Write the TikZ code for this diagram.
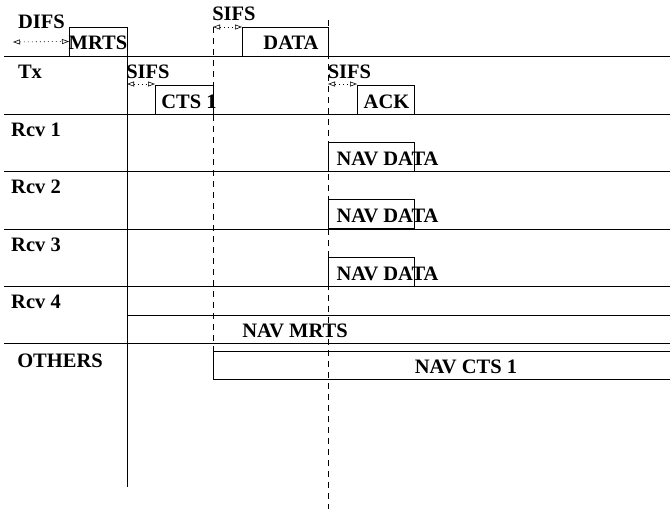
\documentclass[tikz,border=0pt]{standalone}
\usepackage{fontspec}
\setmainfont{Liberation Serif}
\usetikzlibrary{arrows.meta}

\begin{document}
\begin{tikzpicture}[x=1pt,y=-1pt,line width=0.7pt,
        lbl/.style={font=\fontsize{20.5}{24}\selectfont\bfseries,inner sep=0pt,anchor=base},
        frm/.style={draw,anchor=north west,minimum width=#1,minimum height=29pt,
            inner sep=0pt,outer sep=0pt},
        mark line/.style={dash pattern=on 6pt off 5pt},
        gap/.style={dash pattern=on 1pt off 3pt,line width=0.6pt,
            {Triangle[open,length=7pt,width=5pt]}-{Triangle[open,length=7pt,width=5pt]}}]
    \useasboundingbox (0,0) rectangle (670,514);

    % row separators
    \foreach \y in {56,114,171.5,229,286,343}
        \draw (4,\y) -- (670,\y);

    % time marks
    \coordinate (t0top) at (127,27);
    \coordinate (t0bot) at (127,487);
    \coordinate (t1top) at (213,27);
    \coordinate (t1bot) at (213,351);
    \coordinate (t2top) at (328,20);
    \coordinate (t2bot) at (328,509);
    \draw (t0top) -- (t0bot);
    \draw[mark line] (t1top) -- (t1bot);
    \draw[mark line] (t2top) -- (t2bot);

    % frames
    \node[frm=58pt] (mrtsbox) at (69,27) {};
    \node[frm=86pt] (databox) at (242,27) {};
    \node[frm=58pt] (ctsbox) at (155,85) {};
    \node[frm=57pt] (ackbox) at (357,85) {};
    \draw (670,315) -- (127,315);
    \draw (670,351) -- (t1bot) -- (213,379) -- (670,379);

    % waiting times
    \coordinate (difs0) at (13,42);
    \coordinate (sifs1) at (127,84);
    \coordinate (sifs2) at (328,84);
    \draw[gap] (difs0) -- (mrtsbox.west);
    \draw[gap] (t1top) -- (databox.north west);
    \draw[gap] (sifs1) -- (sifs1 -| ctsbox.west);
    \draw[gap] (sifs2) -- (sifs2 -| ackbox.west);

    % labels
    \node[lbl] (difs) at (41.5,28) {DIFS};
    \node[lbl] (mrts) at (98,49) {MRTS};
    \node[lbl] (sifsa) at (234,20) {SIFS};
    \node[lbl] (data) at (291,49) {DATA};
    \node[lbl] (tx) at (30,78) {Tx};
    \node[lbl] (sifsb) at (148,78) {SIFS};
    \node[lbl] (cts) at (189,108) {CTS 1};
    \node[lbl] (sifsc) at (349.5,78) {SIFS};
    \node[lbl] (ack) at (386.5,108) {ACK};

    \foreach \i/\y in {1/136,2/193,3/251} {
        \node[lbl] (rcv\i) at (36,\y) {Rcv \i};
        \node[frm=86pt] (navbox\i) at (328,\y+6) {};
        \node[lbl] (nav\i) at (387.5,\y+29) {NAV DATA};
    }
    \node[lbl] (rcv4) at (36,308) {Rcv 4};
    \node[lbl] (navmrts) at (295,337) {NAV MRTS};
    \node[lbl] (others) at (60,367) {OTHERS};
    \node[lbl] (navcts) at (466,373) {NAV CTS 1};
\end{tikzpicture}
\end{document}
